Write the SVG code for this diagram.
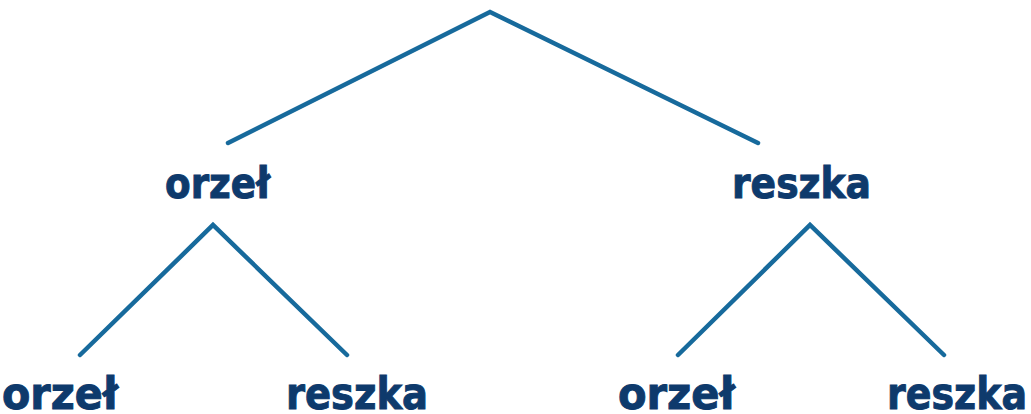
<svg xmlns="http://www.w3.org/2000/svg" width="1031" height="414" viewBox="0 0 1031 414">
<style>
.e{stroke:#176a9c;stroke-width:4.5;fill:none;stroke-linecap:round;stroke-linejoin:miter}
.t{font-family:"DejaVu Sans",Verdana,sans-serif;font-weight:bold;fill:#0e3a6c;stroke:#0e3a6c;stroke-width:1}
.m{font-size:42px}
.b{font-size:44px}
</style>
<rect width="1031" height="414" fill="#ffffff"/>
<g id="connectors">
<polyline class="e" points="228,143 490,12 758,143"/>
<polyline class="e" points="80,355 213,225 347,355"/>
<polyline class="e" points="678,355 810,225 944,355"/>
</g>
<g id="n-orzel-1"><text class="t m" x="165" y="198" textLength="105" lengthAdjust="spacingAndGlyphs">orzeł</text></g>
<g id="n-reszka-1"><text class="t m" x="732" y="198" textLength="139" lengthAdjust="spacingAndGlyphs">reszka</text></g>
<g id="n-orzel-2"><text class="t b" x="2" y="409" textLength="116" lengthAdjust="spacingAndGlyphs">orzeł</text></g>
<g id="n-reszka-2"><text class="t b" x="286" y="409" textLength="142" lengthAdjust="spacingAndGlyphs">reszka</text></g>
<g id="n-orzel-3"><text class="t b" x="618" y="409" textLength="117" lengthAdjust="spacingAndGlyphs">orzeł</text></g>
<g id="n-reszka-3"><text class="t b" x="887" y="409" textLength="140" lengthAdjust="spacingAndGlyphs">reszka</text></g>
</svg>
